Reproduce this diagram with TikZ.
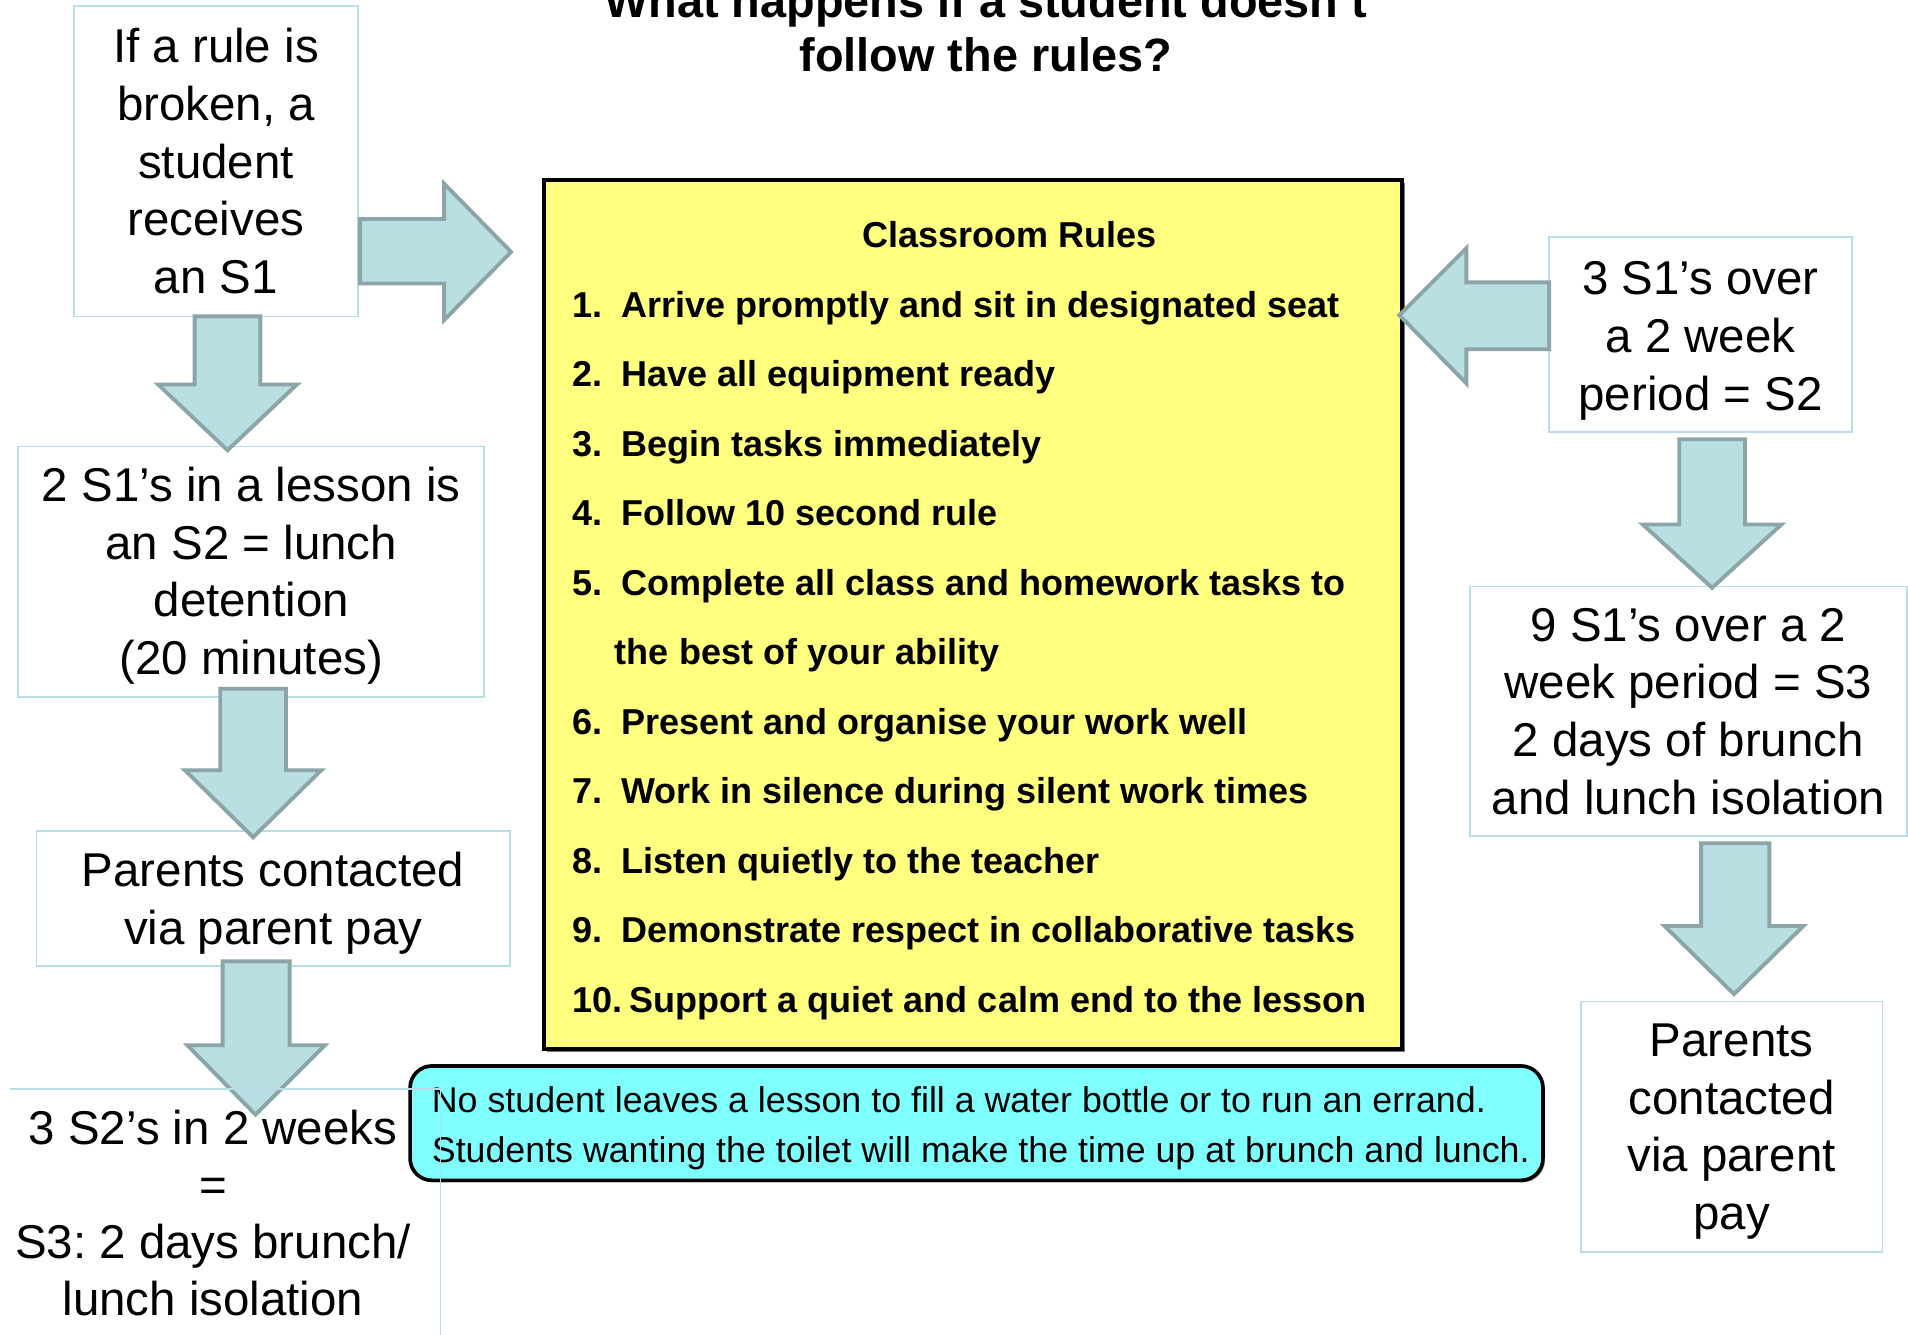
\documentclass[tikz,border=0pt]{standalone}
\usepackage{fontspec}
\setmainfont{Liberation Sans}
\usetikzlibrary{shadows}
\frenchspacing
\definecolor{boxline}{RGB}{183,221,230}
\definecolor{arrowfill}{RGB}{185,223,227}
\definecolor{arrowline}{RGB}{139,165,168}
\definecolor{rulefill}{RGB}{255,255,128}
\definecolor{notefill}{RGB}{128,255,255}
\begin{document}
\begin{tikzpicture}[x=0.5pt,y=-0.5pt,
  stage/.style={draw=boxline,line width=0.7pt,fill=white,inner sep=0pt},
  stagetext/.style={align=center,inner sep=0pt,font=\fontsize{19.5}{23.7}\selectfont},
  blockarrow/.style={fill=arrowfill,draw=arrowline,line width=1.6pt,line join=miter},
  ruletext/.style={anchor=base west,inner sep=0pt,font=\fontsize{14.8}{17}\selectfont\bfseries},
  titletext/.style={anchor=base,inner sep=0pt,font=\fontsize{19.25}{21}\selectfont\bfseries},
]
\useasboundingbox[fill=white] (0,0) rectangle (1568,1097);

% title
\node[titletext] (T1) at (810,14) {What happens if a student doesn’t};
\node[titletext] (T2) at (810,59) {follow the rules?};

% left column
\node[stage,minimum width=116.5pt,minimum height=127.5pt] (A) at (177.5,132.5) {};
\node[stagetext] (At) at (177.5,132.5) {If a rule is\\broken, a\\student\\receives\\an S1};
\node[stage,minimum width=191.5pt,minimum height=103pt] (B) at (206.5,470) {};
\node[stagetext] (Bt) at (206.5,473) {2 S1’s in a lesson is\\an S2 = lunch\\detention\\(20 minutes)};
\node[stage,minimum width=194.5pt,minimum height=55.5pt] (C) at (224.5,738.5) {};
\node[stagetext] (Ct) at (224.5,742.5) {Parents contacted\\via parent pay};

% right column
\node[stage,minimum width=124.5pt,minimum height=80pt] (E) at (1397.5,275) {};
\node[stagetext] (Et) at (1397.5,280) {3 S1’s over\\a 2 week\\period = S2};
\node[stage,minimum width=179.5pt,minimum height=102.5pt] (F) at (1387.5,584.5) {};
\node[stagetext] (Ft) at (1387.5,584.5) {9 S1’s over a 2\\week period = S3\\2 days of brunch\\and lunch isolation};
\node[stage,minimum width=124pt,minimum height=103pt] (G) at (1423,926) {};
\node[stagetext] (Gt) at (1423,930) {Parents\\contacted\\via parent\\pay};

% rules box
\node[draw=black,line width=1.5pt,fill=rulefill,minimum width=352.5pt,minimum height=357pt,
  inner sep=0pt,drop shadow={shadow xshift=1.2pt,shadow yshift=-1.2pt,fill=black!55,opacity=1}]
  (R) at (799.5,505) {};
\node[ruletext] (r0) at (708,203.5) {Classroom Rules};
\node[ruletext] (r1) at (470,260.6) {\makebox[20pt][l]{1.}Arrive promptly and sit in designated seat};
\node[ruletext] (r2) at (470,317.8) {\makebox[20pt][l]{2.}Have all equipment ready};
\node[ruletext] (r3) at (470,374.9) {\makebox[20pt][l]{3.}Begin tasks immediately};
\node[ruletext] (r4) at (470,432.0) {\makebox[20pt][l]{4.}Follow 10 second rule};
\node[ruletext] (r5) at (470,489.2) {\makebox[20pt][l]{5.}Complete all class and homework tasks to};
\node[ruletext] (r5b) at (470,546.3) {\hspace*{17.5pt}the best of your ability};
\node[ruletext] (r6) at (470,603.4) {\makebox[20pt][l]{6.}Present and organise your work well};
\node[ruletext] (r7) at (470,660.5) {\makebox[20pt][l]{7.}Work in silence during silent work times};
\node[ruletext] (r8) at (470,717.7) {\makebox[20pt][l]{8.}Listen quietly to the teacher};
\node[ruletext] (r9) at (470,774.8) {\makebox[20pt][l]{9.}Demonstrate respect in collaborative tasks};
\node[ruletext] (r10) at (470,831.9) {10.\hspace{3pt}Support a quiet and calm end to the lesson};

% note box
\node[draw=black,line width=1.5pt,fill=notefill,rounded corners=9pt,minimum width=465.5pt,
  minimum height=47pt,inner sep=0pt,
  drop shadow={shadow xshift=0.8pt,shadow yshift=-0.8pt,fill=black!40,opacity=1}]
  (N) at (802.5,923) {};
\node[align=left,inner sep=0pt,font=\fontsize{14.7}{20.5}\selectfont] (Nt) at (806,927)
  {No student leaves a lesson to fill a water bottle or to run an errand.\\
   Students wanting the toilet will make the time up at brunch and lunch.};

% bottom-left box text
\node[stagetext,font=\fontsize{19.5}{23.4}\selectfont] (D) at (175,997)
  {3 S2’s in 2 weeks\\=\\S3: 2 days brunch/\\lunch isolation};

% block arrows
\draw[blockarrow] (296,180) -- (365,180) -- (365,151) -- (420,207) -- (365,263) -- (365,233) -- (296,233) -- cycle;
\draw[blockarrow] (160,260) -- (214,260) -- (214,316) -- (244,316) -- (187,370) -- (130,316) -- (160,316) -- cycle;
\draw[blockarrow] (181,566) -- (235,566) -- (235,633) -- (264,633) -- (208,688) -- (152,633) -- (181,633) -- cycle;
\draw[blockarrow] (183,790) -- (238,790) -- (238,859) -- (267,859) -- (210,916) -- (154,859) -- (183,859) -- cycle;
\draw[blockarrow] (1273,232) -- (1205,232) -- (1205,204) -- (1150,259) -- (1205,315) -- (1205,287) -- (1273,287) -- cycle;
\draw[blockarrow] (1380,361) -- (1434,361) -- (1434,431) -- (1464,431) -- (1407,483) -- (1350,431) -- (1380,431) -- cycle;
\draw[blockarrow] (1398,693) -- (1454,693) -- (1454,761) -- (1482,761) -- (1425,817) -- (1368,761) -- (1398,761) -- cycle;

% frame of bottom-left box (top and right sides only)
\draw[draw=boxline,line width=0.7pt] ([shift={(-167,-102)}]D.center) -- ([shift={(187,-102)}]D.center) -- ([shift={(187,102)}]D.center);
\end{tikzpicture}
\end{document}
